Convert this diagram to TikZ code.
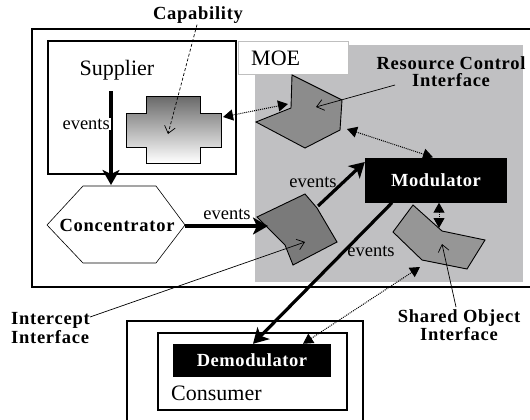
\documentclass[tikz,border=0pt]{standalone}
\usepackage{fontspec}
\setmainfont{Liberation Serif}
\usetikzlibrary{arrows.meta}
\definecolor{moegray}{RGB}{192,192,194}
\definecolor{capgray}{RGB}{105,105,105}
\definecolor{rcigray}{RGB}{140,140,140}
\definecolor{iigray}{RGB}{122,122,122}
\definecolor{soigray}{RGB}{150,150,150}
\tikzset{
    box/.style={draw, rectangle, line width=1.2pt, inner sep=0pt},
    blackbox/.style={fill=black, text=white, inner sep=0pt, font=\bfseries\fontsize{18.5}{20}\selectfont\addfontfeature{LetterSpace=3}},
    lbl/.style={font=\bfseries\fontsize{18.5}{20}\selectfont\addfontfeature{LetterSpace=4}, align=center, inner sep=1pt},
    plain/.style={font=\fontsize{22}{24}\selectfont, inner sep=1pt},
    evt/.style={font=\fontsize{18.5}{20}\selectfont, inner sep=1pt},
    flow/.style={-{Stealth[length=15pt,width=17pt,inset=4pt]}, line width=3.2pt},
    link/.style={{Triangle[length=10pt,width=11pt]}-{Triangle[length=10pt,width=11pt]}, densely dotted, line width=1pt},
    pointer/.style={-{Straight Barb[length=7pt,width=11pt]}, line width=0.7pt},
    iface/.style={draw, line width=0.9pt}
}
\begin{document}
\begin{tikzpicture}[x=1pt, y=-1pt]
    \useasboundingbox (0,0) rectangle (530,420);
    \clip (0,0) rectangle (530,420);

        % Define the big frame and the MOE area
        \node[box, minimum width=510, minimum height=258] (frame) at (287,158) {};
        \fill[moegray] (255,45) rectangle (523,282);
        \node[draw=gray!50, fill=white, rectangle, line width=0.6pt, minimum width=110, minimum height=33] (moebox) at (293,57.5) {};
        \node[plain, anchor=west] (moe) at (250,58) {MOE};

        % Define the supplier box (top left)
        \node[box, minimum width=188, minimum height=133] (supplier) at (142,107.5) {};
        \node[plain] (suplbl) at (117,70) {Supplier};
        \shade[top color=capgray, bottom color=white, draw=black, line width=0.9pt]
            (146,96) -- (200,96) -- (200,113) -- (221,113) -- (221,147) -- (200,147)
            -- (200,163) -- (146,163) -- (146,147) -- (126,147) -- (126,113) -- (146,113) -- cycle;
        \coordinate (cap) at (168,134);
        \coordinate (capR) at (223,117);
        \node[lbl] (caplbl) at (198,15) {Capability};

        % Define the concentrator (left)
        \draw[line width=0.6pt] (83,186) -- (156,186) -- (185,225) -- (156,263) -- (83,263) -- (47,225) -- cycle;
        \node[lbl] (conc) at (117,225) {Concentrator};
        \coordinate (concT) at (111,185);
        \coordinate (concR) at (185,226);
        \coordinate (supB) at (111,91);

        % Define the interface shapes in the MOE area
        \filldraw[fill=rcigray, iface] (292,75) -- (342,100) -- (340,130) -- (305,148) -- (256,122) -- (291,108) -- cycle;
        \filldraw[fill=iigray, iface] (257,217) -- (305,194) -- (317,208) -- (337,242) -- (293,265) -- (285,245) -- cycle;
        \filldraw[fill=soigray, iface] (413,205) -- (442,231) -- (485,240) -- (467,269) -- (422,260) -- (393,232) -- cycle;
        \coordinate (rci) at (316,107);
        \coordinate (rciL) at (288,104);
        \coordinate (rciR) at (347,129);
        \coordinate (ii) at (305,242);
        \coordinate (iiL) at (268,226);
        \coordinate (iiT) at (318,206);
        \coordinate (soi) at (442,244);
        \coordinate (soiT) at (439,228);
        \coordinate (soiB) at (420,267);

        % Define the modulator (right)
        \node[blackbox, minimum width=142, minimum height=45] (mod) at (436,180) {Modulator};

        % Define the consumer boxes (bottom)
        \node[box, minimum width=236, minimum height=110] (consout) at (245,376) {};
        \node[box, minimum width=189, minimum height=77] (cons) at (252.5,371.5) {};
        \node[blackbox, minimum width=158, minimum height=33] (demod) at (252,360.5) {Demodulator};
        \node[plain, anchor=west] (conslbl) at (170,393) {Consumer};

        % Define the interface labels
        \node[lbl] (rcilbl) at (451,72) {Resource Control\\[-3pt]Interface};
        \node[lbl, align=left, anchor=west] (iilbl) at (10,328) {Intercept\\[-1pt]Interface};
        \node[lbl] (soilbl) at (459,325) {Shared Object\\[-2pt]Interface};
        \coordinate (rcip) at (395,85);
        \coordinate (iip) at (90,317);
        \coordinate (soip) at (456,307);

        % Draw the event flows
        \draw[flow] (supB) -- (concT);
        \node[evt, fill=white, anchor=east] (ev1) at (111,124) {events};
        \draw[flow] (concR) -- (iiL);
        \node[evt] (ev2) at (227,214) {events};
        \draw[flow] (iiT) -- (mod.south west |- 0,162);
        \node[evt] (ev3) at (313,182) {events};
        \draw[flow] ([xshift=-44pt]mod.south) -- ([xshift=1pt]demod.north);
        \node[evt] (ev4) at (371,251) {events};

        % Draw the dotted links between the interfaces
        \draw[link] (capR) -- (rciL);
        \draw[link] (rciR) -- ([xshift=-3pt]mod.north);
        \draw[link] ([xshift=3pt]mod.south) -- (soiT);
        \draw[link] ([xshift=51pt]demod.north) -- (soiB);

        % Draw the pointers from the labels
        \draw[pointer, densely dashed] ([xshift=-1pt]caplbl.south) -- (cap);
        \draw[pointer] (rcip) -- (rci);
        \draw[pointer] (iip) -- (ii);
        \draw[pointer] (soip) -- (soi);

\end{tikzpicture}
\end{document}
